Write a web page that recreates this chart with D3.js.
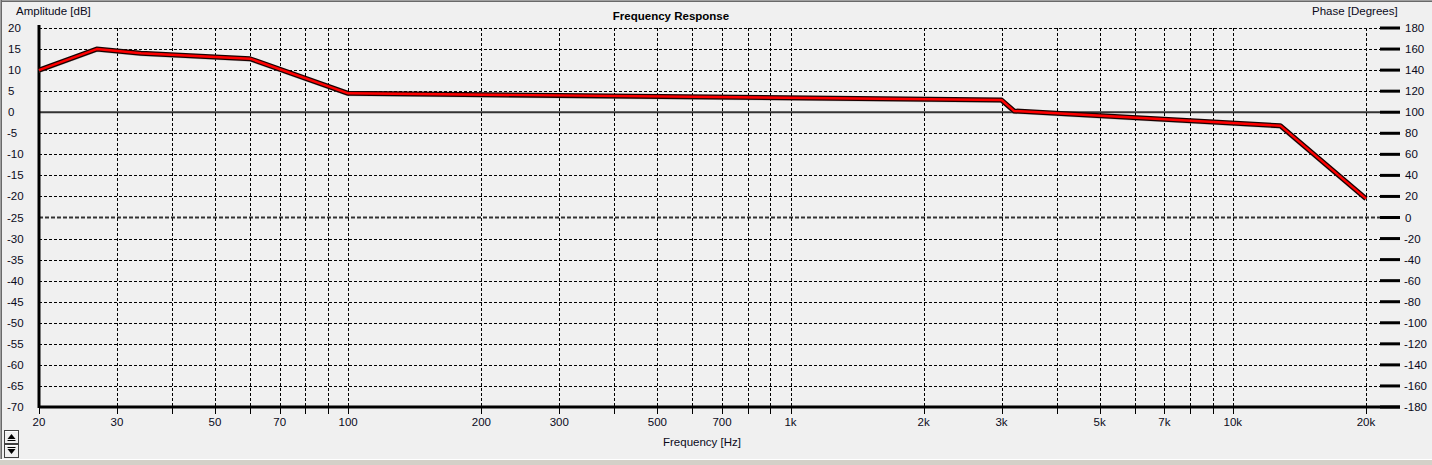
<!DOCTYPE html>
<html><head><meta charset="utf-8">
<script src="https://cdn.jsdelivr.net/npm/d3@7"></script>
<style>
html,body{margin:0;padding:0;background:#f0f0f0;overflow:hidden;}
svg{display:block;font-family:"Liberation Sans",Arial,sans-serif;}
</style></head><body>
<svg id="c" width="1432" height="465"></svg>
<script>
// ---- data ----
const freqHz = [20, 27, 34, 60, 100, 3000, 3200, 12800, 20000];
const ampDb = [10, 15, 14, 12.7, 4.5, 2.9, 0.3, -3.2, -20.5];
const ampTicks = [20,15,10,5,0,-5,-10,-15,-20,-25,-30,-35,-40,-45,-50,-55,-60,-65,-70];
const phaseTicks = [180,160,140,120,100,80,60,40,20,0,-20,-40,-60,-80,-100,-120,-140,-160,-180];
const freqGrid = [30,40,50,60,70,80,90,100,200,300,400,500,600,700,800,900,1000,2000,3000,4000,5000,6000,7000,8000,9000,10000,20000];
const freqLabels = [20,30,50,70,100,200,300,500,700,1000,2000,3000,5000,7000,10000,20000];

const svg = d3.select("#c");
const L = 39, T = 28, B = 407, GR = 1380, TR = 1400;
const x = d3.scaleLog().domain([20, 20000]).range([L, 1366]);
const y = d3.scaleLinear().domain([-70, 20]).range([B, T]);
const yp = d3.scaleLinear().domain([-180, 180]).range([B, T]);

// frame
svg.append("rect").attr("x",0).attr("y",0).attr("width",1432).attr("height",465).attr("fill","#f0f0f0");
svg.append("rect").attr("x",0).attr("y",459).attr("width",1432).attr("height",1).attr("fill","#ffffff");
svg.append("rect").attr("x",0).attr("y",460).attr("width",1432).attr("height",5).attr("fill","#d4d0c8");
svg.append("line").attr("x1",0).attr("x2",1432).attr("y1",0.5).attr("y2",0.5).attr("stroke","#a0a0a0");
svg.append("line").attr("x1",0).attr("x2",1432).attr("y1",1.5).attr("y2",1.5).attr("stroke","#696969");
svg.append("line").attr("x1",0.5).attr("x2",0.5).attr("y1",0).attr("y2",459).attr("stroke","#a0a0a0");
svg.append("line").attr("x1",1.5).attr("x2",1.5).attr("y1",0).attr("y2",459).attr("stroke","#696969");

const g = svg.append("g");

// horizontal grid
g.selectAll(".hg").data(ampTicks.filter(d => d !== 0 && d !== -70 && d !== -25)).enter().append("line")
  .attr("x1", L).attr("x2", GR).attr("y1", d => Math.round(y(d))+0.5).attr("y2", d => Math.round(y(d))+0.5)
  .attr("stroke","#000").attr("stroke-width",1).attr("stroke-dasharray","3,2");
// 0 dB line
g.append("line").attr("x1",L).attr("x2",GR).attr("y1",y(0)).attr("y2",y(0)).attr("stroke","#333").attr("stroke-width",2);
// phase 0 line
g.append("line").attr("x1",L).attr("x2",GR).attr("y1",yp(0)).attr("y2",yp(0)).attr("stroke","#333").attr("stroke-width",2).attr("stroke-dasharray","4,2");

// vertical grid
g.selectAll(".vg").data(freqGrid).enter().append("line")
  .attr("x1", d => Math.round(x(d))+0.5).attr("x2", d => Math.round(x(d))+0.5).attr("y1", T).attr("y2", B)
  .attr("stroke","#000").attr("stroke-width",1).attr("stroke-dasharray","3,2");
// bottom ticks
g.selectAll(".bt").data([20].concat(freqGrid)).enter().append("line")
  .attr("x1", d => Math.round(x(d))+0.5).attr("x2", d => Math.round(x(d))+0.5).attr("y1", B).attr("y2", B+7)
  .attr("stroke","#000").attr("stroke-width",1);

// right axis ticks
g.selectAll(".rt").data(phaseTicks).enter().append("line")
  .attr("x1", GR).attr("x2", TR).attr("y1", d => yp(d)).attr("y2", d => yp(d))
  .attr("stroke","#000").attr("stroke-width",3);

// axes lines
g.append("line").attr("x1",L).attr("x2",TR).attr("y1",B).attr("y2",B).attr("stroke","#000").attr("stroke-width",3);
g.append("line").attr("x1",L).attr("x2",L).attr("y1",T-3).attr("y2",B+1).attr("stroke","#000").attr("stroke-width",3);

// curve
const line = d3.line().x((d,i) => x(freqHz[i])).y(d => y(d));
g.append("path").attr("d", line(ampDb)).attr("transform","translate(0,1)").attr("fill","none").attr("stroke","#9a9a9a").attr("stroke-opacity",0.5).attr("stroke-width",4);
g.append("path").attr("d", line(ampDb)).attr("fill","none").attr("stroke","#1a0000").attr("stroke-width",5).attr("stroke-linejoin","round");
g.append("path").attr("d", line(ampDb)).attr("fill","none").attr("stroke","#ff0000").attr("stroke-width",2.4).attr("stroke-linejoin","round");

// labels
const fs = "11.5px";
g.selectAll(".yl").data(ampTicks).enter().append("text")
  .attr("x", d => d < 0 ? 7 : 8).attr("y", d => y(d)).attr("dy","0.35em")
  .attr("font-size",fs).attr("fill","#0a0a1a").text(d => d);
g.selectAll(".pl").data(phaseTicks).enter().append("text")
  .attr("x", d => d < 0 ? 1404 : 1405).attr("y", d => yp(d)).attr("dy","0.35em")
  .attr("font-size",fs).attr("fill","#0a0a1a").text(d => d);
const fmt = d => d >= 1000 ? (d/1000) + "k" : d;
g.selectAll(".xl").data(freqLabels).enter().append("text")
  .attr("x", d => x(d)).attr("y", 422).attr("dy","0.35em").attr("text-anchor","middle")
  .attr("font-size",fs).attr("fill","#0a0a1a").text(fmt);

svg.append("text").attr("x",16).attr("y",15).attr("font-size",fs).attr("fill","#0a0a1a").text("Amplitude [dB]");
svg.append("text").attr("x",1312).attr("y",15).attr("font-size",fs).attr("fill","#0a0a1a").text("Phase [Degrees]");
svg.append("text").attr("x",671).attr("y",20).attr("text-anchor","middle").attr("font-size","11.5px").attr("font-weight","bold").attr("fill","#000").text("Frequency Response");
svg.append("text").attr("x",702).attr("y",446).attr("text-anchor","middle").attr("font-size",fs).attr("fill","#0a0a1a").text("Frequency [Hz]");

// scroll buttons
function btn(y0, up){
  svg.append("rect").attr("x",4.5).attr("y",y0+0.5).attr("width",14).attr("height",13).attr("fill","#f0f0f0").attr("stroke","#404040");
  svg.append("line").attr("x1",5).attr("x2",18).attr("y1",y0+1.5).attr("y2",y0+1.5).attr("stroke","#fff");
  const cx = 11.5, cy = y0 + 7;
  const pts = up ? [[cx-4,cy+2],[cx+4,cy+2],[cx,cy-3]] : [[cx-4,cy-2],[cx+4,cy-2],[cx,cy+3]];
  svg.append("polygon").attr("points", pts.map(p=>p.join(",")).join(" ")).attr("fill","#000");
  svg.append("line").attr("x1",cx-4).attr("x2",cx+4).attr("y1",up?cy+3.5:cy-3.5).attr("y2",up?cy+3.5:cy-3.5).attr("stroke","#000");
}
btn(430, true);
btn(444, false);
</script>
</body></html>
